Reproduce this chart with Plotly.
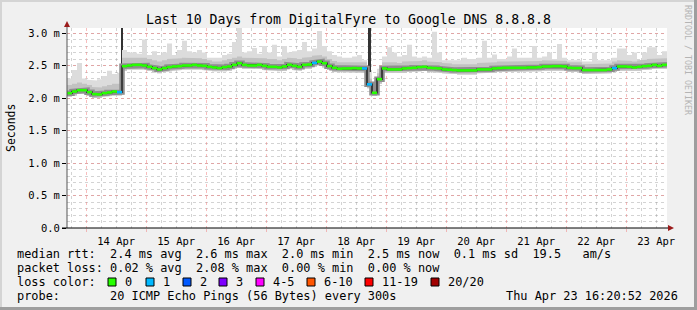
import numpy as np
import pandas as pd
import plotly.graph_objects as go

# ---------------- data ----------------
START = "2026-04-13 16:20:52"
END = "2026-04-23 16:20:52"
N_STEPS = 120          # 2-hour consolidation steps over 10 days

median_ms = [
    2.075, 2.10, 2.12, 2.12, 2.09, 2.06, 2.055, 2.075, 2.085, 2.10, 2.09,
    2.49, 2.50, 2.51, 2.51, 2.50, 2.48, 2.46, 2.44, 2.46, 2.475, 2.485, 2.49, 2.50,
    2.50, 2.51, 2.50, 2.495, 2.48, 2.47, 2.46, 2.475, 2.485, 2.51, 2.535, 2.51, 2.50,
    2.50, 2.51, 2.495, 2.48, 2.48, 2.47, 2.485, 2.51, 2.495, 2.48, 2.51, 2.515,
    2.54, 2.56, 2.535, 2.49, 2.465, 2.45, 2.455, 2.455, 2.46, 2.455, 2.455, 2.21, 2.08,
    2.29, 2.455, 2.44, 2.44, 2.44, 2.455, 2.46, 2.465, 2.475, 2.48, 2.465, 2.46,
    2.455, 2.44, 2.435, 2.43, 2.425, 2.425, 2.425, 2.425, 2.44, 2.44, 2.44, 2.455,
    2.46, 2.465, 2.465, 2.465, 2.465, 2.465, 2.47, 2.47, 2.475, 2.485, 2.485,
    2.49, 2.49, 2.485, 2.465, 2.46, 2.46, 2.43, 2.43, 2.43, 2.43, 2.43, 2.44, 2.46,
    2.485, 2.485, 2.48, 2.47, 2.48, 2.49, 2.495, 2.51, 2.495, 2.51,
]
smoke_hi_ms = [
    2.30, 2.43, 2.54, 2.30, 2.28, 2.27, 2.29, 2.34, 2.42, 2.37, 2.39,
    2.74, 2.70, 2.70, 2.68, 2.90, 2.66, 2.72, 2.66, 2.70, 2.84, 2.66, 2.74, 2.88,
    2.72, 2.70, 2.74, 2.70, 2.62, 2.63, 2.62, 2.66, 2.68, 2.86, 3.08, 2.70, 2.72,
    2.77, 2.68, 2.80, 2.70, 2.82, 2.64, 2.80, 2.70, 2.72, 2.74, 2.86, 2.72,
    2.76, 3.03, 2.80, 2.72, 2.66, 2.64, 2.62, 2.62, 2.64, 2.66, 2.58, 2.40, 2.20,
    2.45, 2.64, 2.78, 2.70, 2.64, 2.66, 2.82, 2.64, 2.62, 2.64, 2.62, 3.02,
    2.70, 2.58, 2.58, 2.58, 2.58, 2.62, 2.60, 2.60, 2.62, 2.88, 2.62, 2.67,
    2.60, 2.60, 2.64, 2.76, 2.62, 2.62, 2.62, 2.80, 2.62, 2.64, 2.70,
    2.60, 2.83, 2.62, 2.58, 2.58, 2.58, 2.56, 2.56, 2.70, 2.58, 2.58, 2.58, 2.62,
    2.76, 2.76, 2.66, 2.70, 2.56, 2.70, 2.78, 2.78, 2.66, 2.72,
]
smoke_mid_ms = [
    2.20, 2.22, 2.24, 2.22, 2.20, 2.17, 2.16, 2.18, 2.20, 2.22, 2.22,
    2.62, 2.62, 2.63, 2.62, 2.62, 2.60, 2.58, 2.56, 2.58, 2.60, 2.60, 2.61, 2.62,
    2.62, 2.62, 2.61, 2.60, 2.58, 2.56, 2.56, 2.58, 2.60, 2.62, 2.64, 2.62, 2.61,
    2.62, 2.62, 2.61, 2.60, 2.60, 2.58, 2.60, 2.62, 2.61, 2.60, 2.62, 2.63,
    2.65, 2.66, 2.64, 2.60, 2.57, 2.55, 2.55, 2.55, 2.56, 2.55, 2.55, 2.30, 2.15,
    2.38, 2.55, 2.56, 2.55, 2.54, 2.56, 2.56, 2.56, 2.57, 2.58, 2.56, 2.56,
    2.55, 2.54, 2.53, 2.52, 2.52, 2.52, 2.52, 2.52, 2.54, 2.54, 2.54, 2.55,
    2.56, 2.56, 2.56, 2.57, 2.56, 2.56, 2.57, 2.57, 2.57, 2.58, 2.58,
    2.58, 2.58, 2.57, 2.55, 2.55, 2.55, 2.52, 2.52, 2.52, 2.52, 2.52, 2.53, 2.56,
    2.58, 2.58, 2.57, 2.56, 2.58, 2.59, 2.60, 2.61, 2.60, 2.61,
]
smoke_lo_ms = [
    2.02, 2.04, 2.06, 2.06, 2.03, 2.00, 2.00, 2.02, 2.03, 2.04, 2.04,
    2.42, 2.44, 2.45, 2.45, 2.44, 2.42, 2.40, 2.38, 2.40, 2.41, 2.42, 2.43, 2.44,
    2.44, 2.45, 2.44, 2.43, 2.42, 2.41, 2.40, 2.41, 2.42, 2.45, 2.47, 2.45, 2.44,
    2.44, 2.45, 2.43, 2.42, 2.42, 2.41, 2.42, 2.45, 2.43, 2.42, 2.45, 2.45,
    2.48, 2.50, 2.47, 2.43, 2.40, 2.39, 2.39, 2.39, 2.40, 2.39, 2.39, 2.15, 2.03,
    2.22, 2.39, 2.38, 2.38, 2.38, 2.39, 2.40, 2.40, 2.41, 2.42, 2.40, 2.40,
    2.39, 2.38, 2.37, 2.37, 2.36, 2.36, 2.36, 2.36, 2.38, 2.38, 2.38, 2.39,
    2.40, 2.40, 2.40, 2.40, 2.40, 2.40, 2.41, 2.41, 2.41, 2.42, 2.42,
    2.43, 2.43, 2.42, 2.40, 2.40, 2.40, 2.37, 2.37, 2.37, 2.37, 2.37, 2.38, 2.40,
    2.42, 2.42, 2.42, 2.41, 2.42, 2.43, 2.44, 2.45, 2.44, 2.45,
]
loss_pings = [
    0, 0, 0, 0, 0, 0, 0, 0, 0, 0, 1,
    0, 0, 0, 0, 0, 0, 0, 0, 0, 0, 0, 0, 0,
    0, 0, 0, 0, 0, 0, 0, 0, 0, 0, 0, 0, 0,
    0, 0, 0, 0, 0, 0, 0, 0, 0, 0, 0, 0,
    1, 0, 0, 0, 0, 0, 0, 0, 0, 0, 1, 1, 0,
    0, 0, 0, 0, 0, 0, 0, 0, 0, 0, 0, 0,
    0, 0, 0, 0, 0, 0, 0, 0, 0, 0, 0, 0,
    0, 0, 0, 0, 0, 0, 0, 0, 0, 0, 0,
    0, 0, 0, 0, 0, 0, 0, 0, 0, 0, 0, 0, 1,
    0, 0, 0, 0, 0, 0, 0, 0, 0, 0,
]

spike_times = ["2026-04-14 14:18", "2026-04-18 17:16"]
spike_lo_ms = [2.12, 2.21]
spike_hi_ms = [3.40, 3.40]

y_tickvals = [0.0, 0.5, 1.0, 1.5, 2.0, 2.5, 3.0]
y_ticktext = ["0.0", "0.5 m", "1.0 m", "1.5 m", "2.0 m", "2.5 m", "3.0 m"]

title_text = "Last 10 Days from DigitalFyre to Google DNS 8.8.8.8"
y_title = "Seconds"
credit_text = "RRDTOOL / TOBI OETIKER"
row_rtt = "median rtt:  2.4 ms avg  2.6 ms max  2.0 ms min  2.5 ms now  0.1 ms sd  19.5   am/s"
row_loss = "packet loss: 0.02 % avg  2.08 % max  0.00 % min  0.00 % now"
row_color_label = "loss color:"
row_probe = "probe:       20 ICMP Echo Pings (56 Bytes) every 300s"
stamp_text = "Thu Apr 23 16:20:52 2026"
loss_labels = ["0", "1", "2", "3", "4-5", "6-10", "11-19", "20/20"]
loss_colors = ["#26ff00", "#00b8ff", "#0059ff", "#7e00ff", "#ff00ff", "#ff5500", "#ff0000", "#a00000"]
loss_upper = [0, 1, 2, 3, 5, 10, 19, 20]

# ---------------- layout geometry (pixels) ----------------
W_FIG, H_FIG = 697, 310
L, T, PW, PH = 67, 28, 600, 200
R, B = W_FIG - L - PW, H_FIG - T - PH
Y_TOP = PH / 65.0   # 65 px per ms
FONT = "DejaVu Sans Mono"


def px(x):
    return (x - L) / PW


def py(y):
    return (T + PH - y) / PH


edges = pd.date_range(START, periods=N_STEPS + 1, freq="2h")
med = np.array(median_ms)


def step_xy(vals):
    xs = np.empty(2 * N_STEPS, dtype=object)
    xs[0::2] = list(edges[:-1])
    xs[1::2] = list(edges[1:])
    return list(xs), list(np.repeat(np.array(vals), 2))


def seg_xy(mask):
    xs, ys = [], []
    for i in np.where(mask)[0]:
        xs += [edges[i], edges[i + 1], None]
        ys += [med[i], med[i], None]
    return xs, ys


fig = go.Figure()

sx, lo_y = step_xy(smoke_lo_ms)
_, hi_y = step_xy(smoke_hi_ms)
_, mid_y = step_xy(smoke_mid_ms)
_, med_y = step_xy(median_ms)

fig.add_trace(go.Scatter(x=sx, y=lo_y, mode="lines", line=dict(width=0), hoverinfo="skip"))
fig.add_trace(go.Scatter(x=sx, y=hi_y, mode="lines", line=dict(width=0), fill="tonexty",
                         fillcolor="#dcdcdc", hoverinfo="skip"))
fig.add_trace(go.Scatter(x=sx, y=lo_y, mode="lines", line=dict(width=0), hoverinfo="skip"))
fig.add_trace(go.Scatter(x=sx, y=mid_y, mode="lines", line=dict(width=0), fill="tonexty",
                         fillcolor="#c2c2c2", hoverinfo="skip"))
fig.add_trace(go.Scatter(x=sx, y=med_y, mode="lines", line=dict(width=5.5, color="#8e8e8e"), hoverinfo="skip"))
fig.add_trace(go.Scatter(x=sx, y=med_y, mode="lines", line=dict(width=1.6, color="#2a2a2a"), hoverinfo="skip"))

# spikes (smoke running off the top)
fig.add_trace(go.Bar(x=pd.to_datetime(spike_times), y=np.array(spike_hi_ms) - np.array(spike_lo_ms),
                     base=spike_lo_ms, width=3600000, marker=dict(color="#333333", line=dict(width=0)),
                     hoverinfo="skip"))

loss_arr = np.array(loss_pings)
lower = 0
for k, up in enumerate(loss_upper):
    mask = (loss_arr >= lower) & (loss_arr <= up)
    lower = up + 1
    if mask.any():
        xs, ys = seg_xy(mask)
        fig.add_trace(go.Scatter(x=xs, y=ys, mode="lines", line=dict(width=2.6, color=loss_colors[k]),
                                 hoverinfo="skip"))

grid_major = "rgba(240,110,110,0.45)"
grid_minor = "rgba(150,150,150,0.42)"

fig.update_layout(
    width=W_FIG, height=H_FIG,
    margin=dict(l=L, r=R, t=T, b=B, autoexpand=False),
    paper_bgcolor="#f0f0f0", plot_bgcolor="#ffffff",
    showlegend=False, bargap=0,
    font=dict(family=FONT, color="#000000"),
    xaxis=dict(
        type="date", range=[START, END],
        tick0="2026-04-13", dtick=86400000, tickformat="%d %b", ticklabelmode="period",
        showgrid=True, gridcolor=grid_major, griddash="dot", gridwidth=1,
        ticks="outside", ticklen=3, tickcolor=grid_major,
        tickfont=dict(family=FONT, size=10.5, color="#000"),
        showline=False, zeroline=False,
        minor=dict(tick0="2026-04-13", dtick=6 * 3600000, showgrid=True, gridcolor=grid_minor,
                   griddash="dot", gridwidth=1, ticks=""),
    ),
    yaxis=dict(
        range=[0, Y_TOP], tickvals=y_tickvals, ticktext=y_ticktext,
        showgrid=True, gridcolor=grid_major, griddash="dot", gridwidth=1,
        ticks="outside", ticklen=4, tickcolor="#000",
        tickfont=dict(family=FONT, size=10.5, color="#000"),
        showline=False, zeroline=False,
        minor=dict(dtick=0.1, showgrid=True, gridcolor=grid_minor, griddash="dot", gridwidth=1, ticks=""),
    ),
)

shapes = []
# axes with arrows
shapes.append(dict(type="line", xref="paper", yref="paper", x0=px(67), x1=px(67), y0=py(228), y1=py(25),
                   line=dict(color="#555555", width=1)))
shapes.append(dict(type="line", xref="paper", yref="paper", x0=px(62), x1=px(669), y0=py(228), y1=py(228),
                   line=dict(color="#000000", width=1)))
arrow = "#9b1b1b"
shapes.append(dict(type="path", xref="paper", yref="paper",
                   path=f"M {px(64)},{py(27)} L {px(70)},{py(27)} L {px(67)},{py(21)} Z",
                   fillcolor=arrow, line=dict(width=0)))
shapes.append(dict(type="path", xref="paper", yref="paper",
                   path=f"M {px(668)},{py(225)} L {px(668)},{py(231)} L {px(674)},{py(228)} Z",
                   fillcolor=arrow, line=dict(width=0)))
# 3D frame
shapes.append(dict(type="rect", xref="paper", yref="paper", x0=px(0), x1=px(697), y0=py(0), y1=py(2),
                   fillcolor="#d4d4d4", line=dict(width=0)))
shapes.append(dict(type="rect", xref="paper", yref="paper", x0=px(0), x1=px(2), y0=py(0), y1=py(310),
                   fillcolor="#d4d4d4", line=dict(width=0)))
shapes.append(dict(type="rect", xref="paper", yref="paper", x0=px(0), x1=px(697), y0=py(307), y1=py(310),
                   fillcolor="#9e9e9e", line=dict(width=0)))
shapes.append(dict(type="rect", xref="paper", yref="paper", x0=px(694), x1=px(697), y0=py(0), y1=py(310),
                   fillcolor="#9e9e9e", line=dict(width=0)))

annotations = []


def note(text, x, y, size=11.9, xanchor="left", color="#000", angle=0):
    annotations.append(dict(text=text.replace(" ", "\u00a0"), x=px(x), y=py(y), xref="paper", yref="paper",
                            xanchor=xanchor, yanchor="middle", showarrow=False, textangle=angle,
                            font=dict(family=FONT, size=size, color=color)))


note(title_text, 348.5, 19, size=13.2, xanchor="center")
note(y_title, 11, 128, size=11.5, xanchor="center", angle=-90)
note(credit_text, 688, 60, size=8.3, xanchor="center", color="#b4b4b4", angle=90)
note(row_rtt, 15, 254)
note(row_loss, 15, 268)
note(row_color_label, 15, 282)
note(row_probe, 15, 296)
note(stamp_text, 680, 296, xanchor="right")

box_x = [108, 146, 183, 219, 256, 307, 365, 431]
for bx, lab, col in zip(box_x, loss_labels, loss_colors):
    shapes.append(dict(type="rect", xref="paper", yref="paper", x0=px(bx), x1=px(bx + 8), y0=py(278), y1=py(286),
                       fillcolor=col, line=dict(color="#000", width=1)))
    note(lab, bx + 14.5, 282)

fig.update_layout(shapes=shapes, annotations=annotations)
fig.write_html("out.html")
